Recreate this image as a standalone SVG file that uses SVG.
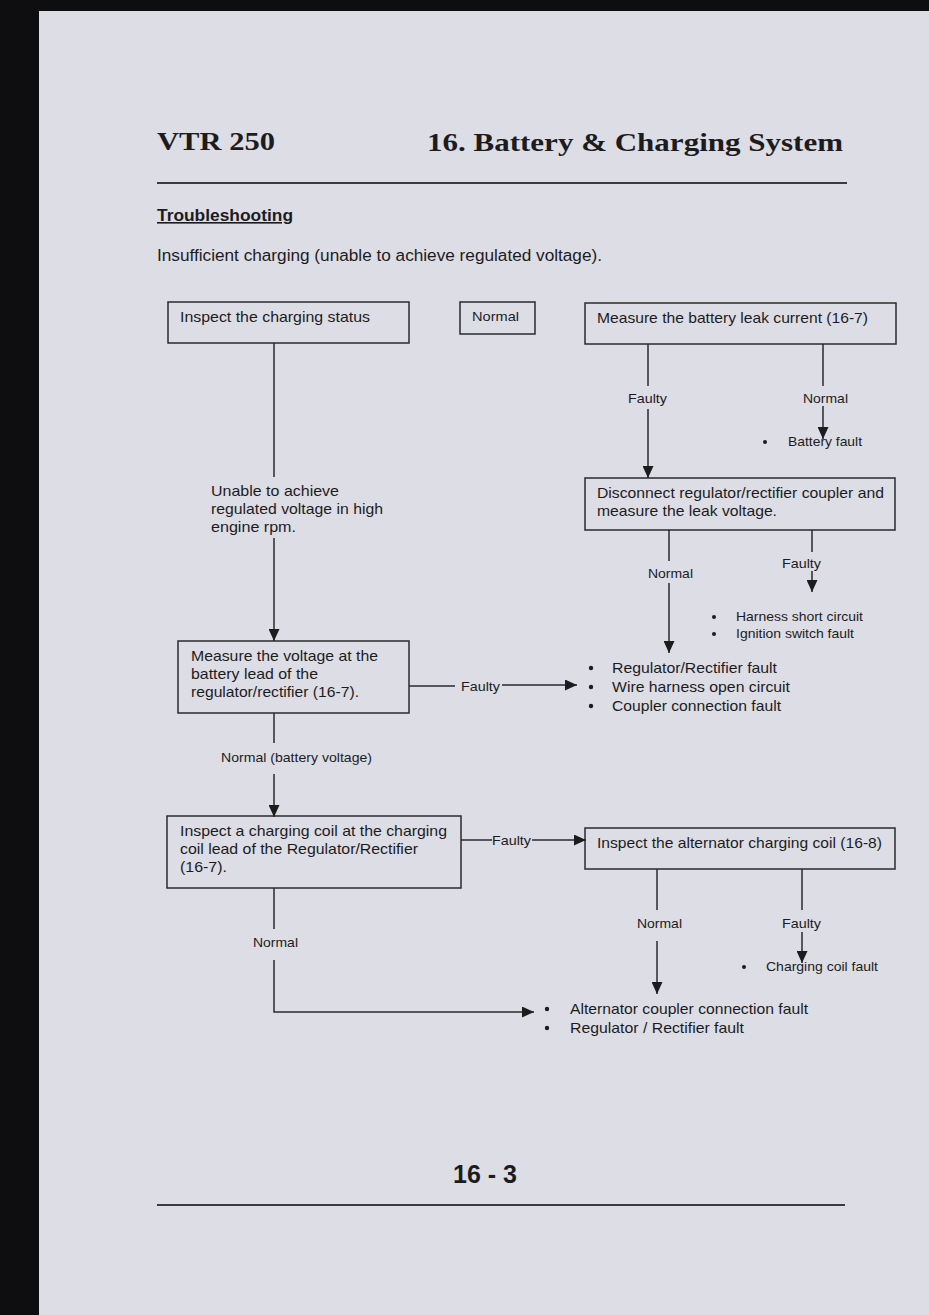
<svg xmlns="http://www.w3.org/2000/svg" width="929" height="1315" viewBox="0 0 929 1315">
<style>
.t{font-family:"Liberation Sans",Arial,sans-serif;fill:#1c1c1e}
.b{font-size:15px}
.s{font-size:13px}
.box{fill:none;stroke:#2a2a2e;stroke-width:1.5}
.ln{fill:none;stroke:#2a2a2e;stroke-width:1.5}
.arr{marker-end:url(#ah)}
</style>
<defs>
<marker id="ah" viewBox="0 0 12 11" refX="12" refY="5.5" markerWidth="12" markerHeight="11" markerUnits="userSpaceOnUse" orient="auto">
<path d="M0,0 L12,5.5 L0,11 Z" fill="#1c1c1e"/>
</marker>
</defs>
<rect x="0" y="0" width="929" height="1315" fill="#0e0e10"/>
<rect x="39" y="11" width="890" height="1304" fill="#dcdde5"/>

<g id="header">
<text class="t" x="157" y="150" style="font-family:'Liberation Serif','DejaVu Serif',serif;font-weight:bold;font-size:26px" textLength="118" lengthAdjust="spacingAndGlyphs">VTR 250</text>
<text class="t" x="427" y="151" style="font-family:'Liberation Serif','DejaVu Serif',serif;font-weight:bold;font-size:26px" textLength="416" lengthAdjust="spacingAndGlyphs">16. Battery &amp; Charging System</text>
<line x1="157" y1="183" x2="847" y2="183" stroke="#3a3a40" stroke-width="2"/>
<text class="t" x="157" y="221" style="font-weight:bold;font-size:16px;text-decoration:underline" textLength="136" lengthAdjust="spacingAndGlyphs">Troubleshooting</text>
<text class="t" x="157" y="261" style="font-size:16px" textLength="445" lengthAdjust="spacingAndGlyphs">Insufficient charging (unable to achieve regulated voltage).</text>
</g>

<g id="n1">
<rect class="box" x="168" y="302" width="241" height="41"/>
<text class="t b" x="180" y="322" textLength="190" lengthAdjust="spacingAndGlyphs">Inspect the charging status</text>
</g>
<g id="n2">
<rect class="box" x="460" y="302" width="75" height="32"/>
<text class="t s" x="472" y="321" textLength="47" lengthAdjust="spacingAndGlyphs">Normal</text>
</g>
<g id="n3">
<rect class="box" x="585" y="303" width="311" height="41"/>
<text class="t b" x="597" y="323" textLength="271" lengthAdjust="spacingAndGlyphs">Measure the battery leak current (16-7)</text>
</g>
<g id="n4">
<rect class="box" x="585" y="478" width="310" height="52"/>
<text class="t b" x="597" y="498" textLength="287" lengthAdjust="spacingAndGlyphs">Disconnect regulator/rectifier coupler and</text>
<text class="t b" x="597" y="516" textLength="180" lengthAdjust="spacingAndGlyphs">measure the leak voltage.</text>
</g>
<g id="n5">
<text class="t b" x="211" y="496" textLength="128" lengthAdjust="spacingAndGlyphs">Unable to achieve</text>
<text class="t b" x="211" y="514" textLength="172" lengthAdjust="spacingAndGlyphs">regulated voltage in high</text>
<text class="t b" x="211" y="532" textLength="85" lengthAdjust="spacingAndGlyphs">engine rpm.</text>
</g>
<g id="n6">
<rect class="box" x="178" y="641" width="231" height="72"/>
<text class="t b" x="191" y="661" textLength="187" lengthAdjust="spacingAndGlyphs">Measure the voltage at the</text>
<text class="t b" x="191" y="679" textLength="127" lengthAdjust="spacingAndGlyphs">battery lead of the</text>
<text class="t b" x="191" y="697" textLength="168" lengthAdjust="spacingAndGlyphs">regulator/rectifier (16-7).</text>
</g>
<g id="n7">
<rect class="box" x="167" y="816" width="294" height="72"/>
<text class="t b" x="180" y="836" textLength="267" lengthAdjust="spacingAndGlyphs">Inspect a charging coil at the charging</text>
<text class="t b" x="180" y="854" textLength="238" lengthAdjust="spacingAndGlyphs">coil lead of the Regulator/Rectifier</text>
<text class="t b" x="180" y="872" textLength="47" lengthAdjust="spacingAndGlyphs">(16-7).</text>
</g>
<g id="n8">
<rect class="box" x="585" y="828" width="310" height="41"/>
<text class="t b" x="597" y="848" textLength="285" lengthAdjust="spacingAndGlyphs">Inspect the alternator charging coil (16-8)</text>
</g>
<g id="r1">
<circle cx="765" cy="442" r="2" fill="#1c1c1e"/>
<text class="t s" x="788" y="446" textLength="74" lengthAdjust="spacingAndGlyphs">Battery fault</text>
</g>
<g id="r2">
<circle cx="714" cy="617" r="2" fill="#1c1c1e"/>
<text class="t s" x="736" y="621" textLength="127" lengthAdjust="spacingAndGlyphs">Harness short circuit</text>
<circle cx="714" cy="634" r="2" fill="#1c1c1e"/>
<text class="t s" x="736" y="638" textLength="118" lengthAdjust="spacingAndGlyphs">Ignition switch fault</text>
</g>
<g id="r3">
<circle cx="591" cy="668" r="2.2" fill="#1c1c1e"/>
<text class="t b" x="612" y="673" textLength="165" lengthAdjust="spacingAndGlyphs">Regulator/Rectifier fault</text>
<circle cx="591" cy="687" r="2.2" fill="#1c1c1e"/>
<text class="t b" x="612" y="692" textLength="178" lengthAdjust="spacingAndGlyphs">Wire harness open circuit</text>
<circle cx="591" cy="706" r="2.2" fill="#1c1c1e"/>
<text class="t b" x="612" y="711" textLength="169" lengthAdjust="spacingAndGlyphs">Coupler connection fault</text>
</g>
<g id="r4">
<circle cx="744" cy="967" r="2" fill="#1c1c1e"/>
<text class="t s" x="766" y="971" textLength="112" lengthAdjust="spacingAndGlyphs">Charging coil fault</text>
</g>
<g id="r5">
<circle cx="547" cy="1009" r="2.2" fill="#1c1c1e"/>
<text class="t b" x="570" y="1014" textLength="238" lengthAdjust="spacingAndGlyphs">Alternator coupler connection fault</text>
<circle cx="547" cy="1028" r="2.2" fill="#1c1c1e"/>
<text class="t b" x="570" y="1033" textLength="174" lengthAdjust="spacingAndGlyphs">Regulator / Rectifier fault</text>
</g>

<g id="connectors">
<line class="ln" x1="274" y1="343" x2="274" y2="477"/>
<line class="ln arr" x1="274" y1="538" x2="274" y2="641"/>

<line class="ln" x1="648" y1="344" x2="648" y2="386"/>
<line class="ln arr" x1="648" y1="409" x2="648" y2="478"/>
<text class="t s" x="628" y="403" textLength="39" lengthAdjust="spacingAndGlyphs">Faulty</text>

<line class="ln" x1="823" y1="344" x2="823" y2="386"/>
<line class="ln arr" x1="823" y1="406" x2="823" y2="439"/>
<text class="t s" x="803" y="403" textLength="45" lengthAdjust="spacingAndGlyphs">Normal</text>

<line class="ln" x1="669" y1="530" x2="669" y2="561"/>
<line class="ln arr" x1="669" y1="583" x2="669" y2="653"/>
<text class="t s" x="648" y="578" textLength="45" lengthAdjust="spacingAndGlyphs">Normal</text>

<line class="ln" x1="812" y1="530" x2="812" y2="552"/>
<line class="ln arr" x1="812" y1="571" x2="812" y2="592"/>
<text class="t s" x="782" y="568" textLength="39" lengthAdjust="spacingAndGlyphs">Faulty</text>

<line class="ln" x1="409" y1="686" x2="455" y2="686"/>
<line class="ln arr" x1="502" y1="685" x2="577" y2="685"/>
<text class="t s" x="461" y="691" textLength="39" lengthAdjust="spacingAndGlyphs">Faulty</text>

<line class="ln" x1="274" y1="713" x2="274" y2="743"/>
<line class="ln arr" x1="274" y1="774" x2="274" y2="817"/>
<text class="t s" x="221" y="762" textLength="151" lengthAdjust="spacingAndGlyphs">Normal (battery voltage)</text>

<line class="ln" x1="461" y1="840" x2="492" y2="840"/>
<line class="ln arr" x1="532" y1="840" x2="586" y2="840"/>
<text class="t s" x="492" y="845" textLength="39" lengthAdjust="spacingAndGlyphs">Faulty</text>

<line class="ln" x1="274" y1="888" x2="274" y2="929"/>
<polyline class="ln arr" points="274,960 274,1012 534,1012"/>
<text class="t s" x="253" y="947" textLength="45" lengthAdjust="spacingAndGlyphs">Normal</text>

<line class="ln" x1="657" y1="869" x2="657" y2="910"/>
<line class="ln arr" x1="657" y1="941" x2="657" y2="994"/>
<text class="t s" x="637" y="928" textLength="45" lengthAdjust="spacingAndGlyphs">Normal</text>

<line class="ln" x1="802" y1="869" x2="802" y2="910"/>
<line class="ln arr" x1="802" y1="932" x2="802" y2="963"/>
<text class="t s" x="782" y="928" textLength="39" lengthAdjust="spacingAndGlyphs">Faulty</text>
</g>

<g id="footer">
<text class="t" x="453" y="1183" style="font-family:'Liberation Sans Narrow','Liberation Sans',sans-serif;font-weight:bold;font-size:25px" textLength="64" lengthAdjust="spacingAndGlyphs">16 - 3</text>
<line x1="157" y1="1205" x2="845" y2="1205" stroke="#3a3a40" stroke-width="2"/>
</g>
</svg>
